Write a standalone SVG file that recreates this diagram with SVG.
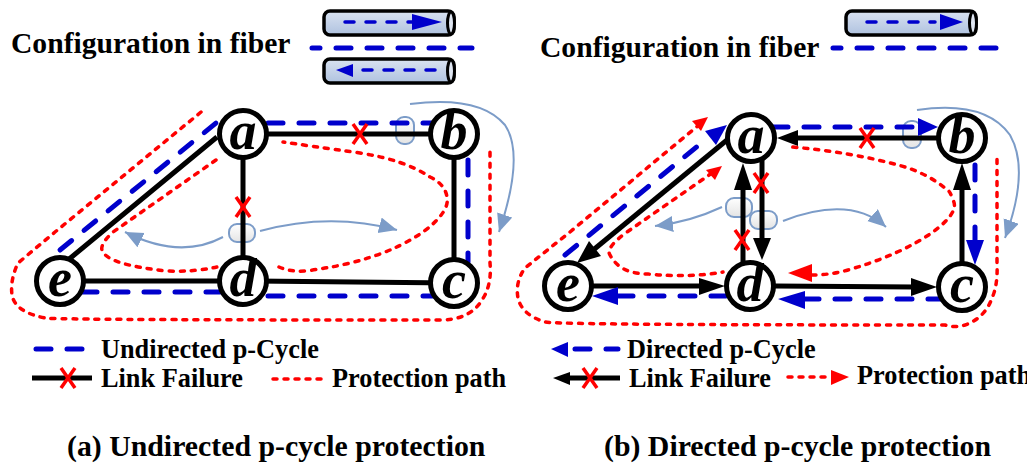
<svg xmlns="http://www.w3.org/2000/svg" width="1035" height="463" viewBox="0 0 1035 463">
<style>
text{font-family:"Liberation Serif",serif;font-weight:bold;fill:#000}
.cfg{font-size:29.6px}.leg{font-size:26.3px}.cap{font-size:29.8px}
.ltr{font-size:54px;font-style:italic;text-anchor:middle}
.nd{fill:#fff;stroke:#000;stroke-width:5}
.bk{fill:none;stroke:#000;stroke-width:5}
.bl{fill:none;stroke:#0000cc;stroke-width:5;stroke-dasharray:15 16;stroke-linecap:round}
.blt{fill:none;stroke:#0000cc;stroke-width:3.5;stroke-dasharray:9 12;stroke-linecap:round}
.rd{fill:none;stroke:#ff0000;stroke-width:3.5;stroke-dasharray:4 7;stroke-linecap:round}
.gr{fill:none;stroke:#7c9cc8;stroke-width:2}
.sl{fill:url(#sg);stroke:#7c9cc8;stroke-width:2}
.x{fill:none;stroke:#ff0000;stroke-width:3.5}
.tube{fill:url(#tb);stroke:#000;stroke-width:3.5}
.end{fill:#dfe6f2;stroke:#000;stroke-width:3}
.ab{fill:#0000cc}.ak{fill:#000}.ar{fill:#ff0000}
</style>
<defs>
<linearGradient id="tb" x1="0" y1="0" x2="0" y2="1"><stop offset="0" stop-color="#d9e2f1"/><stop offset="1" stop-color="#afc2df"/></linearGradient>
<linearGradient id="sg" x1="0" y1="0" x2="0" y2="1"><stop offset="0" stop-color="#ffffff"/><stop offset="1" stop-color="#e4e4e4"/></linearGradient>
<marker id="mg" markerUnits="userSpaceOnUse" markerWidth="20" markerHeight="18" refX="18" refY="8" orient="auto"><path d="M0 0L18 8L0 16Z" fill="#7c9cc8"/></marker>
<path id="cross" d="M-7 -10L7 10M7 -10L-7 10" class="x"/>
<clipPath id="edge"><rect x="0" y="0" width="1027" height="463"/></clipPath>
</defs>

<g id="splitters">
<rect class="sl" x="396" y="117" width="18" height="27" rx="8"/>
<rect class="sl" x="229" y="224" width="26" height="18" rx="8"/>
<rect class="sl" x="903" y="121" width="18" height="27" rx="8"/>
<rect class="sl" x="726" y="198" width="26" height="19" rx="8"/>
<rect class="sl" x="750" y="211" width="27" height="18" rx="8"/>
</g>

<g id="connectors">
<!-- panel a links -->
<path class="bk" d="M243 134H454V283M243 134V281M217 137L68 260M60 281H243L454 283"/>
<path class="bl" d="M268 123H436"/><path class="bl" d="M468 160V262"/>
<path class="bl" d="M268 296H437"/><path class="bl" d="M82 292H220"/>
<path class="bl" d="M60 250L216 123"/>
<path class="rd" d="M201 112L55 232L18 263Q10 280 12 295Q15 312 45 318Q55 320 440 320Q470 320 482 300Q492 285 490 263V147"/>
<path class="rd" d="M216 160L113 232Q98 246 103 252Q110 265 167 271Q195 272 217 267"/>
<path class="rd" d="M279 267Q290 272 305 271Q380 262 423 232Q450 212 447 197Q445 184 430 177Q405 160 360 153Q310 146 283 142"/>
<path class="gr" d="M410 104Q480 95 505 125Q525 155 499 232" marker-end="url(#mg)"/>
<path class="gr" d="M223 237Q180 260 125 232" marker-end="url(#mg)"/>
<path class="gr" d="M260 231Q330 212 397 230" marker-end="url(#mg)"/>

<!-- panel b links -->
<path class="bk" d="M962 138H795"/><path class="ak" d="M777 138L798 130V146Z"/>
<path class="bk" d="M962 265V185"/><path class="ak" d="M962 163L971 190H953Z"/>
<path class="bk" d="M743 265V185"/><path class="ak" d="M743 163L752 190H734Z"/>
<path class="bk" d="M762 160V240"/><path class="ak" d="M762 260L753 238H771Z"/>
<path class="bk" d="M593 286H705"/><path class="ak" d="M725 286L699 278V295Z"/>
<path class="bk" d="M775 286L915 287"/><path class="ak" d="M937 287L911 278V296Z"/>
<path class="bk" d="M727 140L592 251"/><path class="ak" d="M577 263L589 241L601 256Z"/>
<path class="bl" d="M773 127H918"/><path class="ab" d="M938 127L918 118V136Z"/>
<path class="bl" d="M975 165V240"/><path class="ab" d="M975 265L966 240H984Z"/>
<path class="bl" d="M943 299H805"/><path class="ab" d="M778 299L805 291V309Z"/>
<path class="bl" d="M726 296H618"/><path class="ab" d="M592 296L618 287V305Z"/>
<path class="bl" d="M565 255L705 140"/><path class="ab" d="M727 125L716 145L705 131Z"/>
<path class="rd" d="M700 124L570 232L525 268Q515 282 518 298Q522 315 545 322Q560 325 945 325Q955 328 965 325Q985 318 992 298Q998 285 997 263V153"/><path class="ar" d="M708 117L701 131L692 121Z"/>
<path class="rd" d="M712 173L627 232Q605 248 610 255Q620 274 648 274Q690 278 723 272"/><path class="ar" d="M722 166L715 180L706 170Z"/>
<path class="rd" d="M812 275Q830 275 848 270Q900 255 933 232Q960 212 953 200Q950 190 945 188Q925 172 898 165Q850 152 792 147"/><path class="ar" d="M788 273L812 264V282Z"/>
<path class="gr" d="M917 110Q985 100 1010 135Q1030 170 1005 238" marker-end="url(#mg)"/>
<path class="gr" d="M722 207Q690 222 655 226" marker-end="url(#mg)"/>
<path class="gr" d="M783 221Q850 195 886 227" marker-end="url(#mg)"/>
</g>

<g id="failures">
<use href="#cross" x="360" y="134"/><use href="#cross" x="243" y="207"/>
<use href="#cross" x="867" y="138"/><use href="#cross" x="761" y="183"/><use href="#cross" x="742" y="240"/>
</g>

<g id="node-a1"><circle class="nd" cx="243" cy="134" r="23.5"/><text class="ltr" x="243" y="149">a</text></g>
<g id="node-b1"><circle class="nd" cx="454" cy="134" r="23.5"/><text class="ltr" x="454" y="149">b</text></g>
<g id="node-c1"><circle class="nd" cx="454" cy="283" r="23.5"/><text class="ltr" x="454" y="298">c</text></g>
<g id="node-d1"><circle class="nd" cx="243" cy="281" r="23.5"/><text class="ltr" x="243" y="296">d</text></g>
<g id="node-e1"><circle class="nd" cx="60" cy="281" r="23.5"/><text class="ltr" x="60" y="296">e</text></g>
<g id="node-a2"><circle class="nd" cx="751" cy="138" r="23.5"/><text class="ltr" x="751" y="153">a</text></g>
<g id="node-b2"><circle class="nd" cx="962" cy="138" r="23.5"/><text class="ltr" x="962" y="153">b</text></g>
<g id="node-c2"><circle class="nd" cx="962" cy="287" r="23.5"/><text class="ltr" x="962" y="302">c</text></g>
<g id="node-d2"><circle class="nd" cx="750" cy="286" r="23.5"/><text class="ltr" x="750" y="301">d</text></g>
<g id="node-e2"><circle class="nd" cx="568" cy="286" r="23.5"/><text class="ltr" x="568" y="301">e</text></g>

<g id="fiber-a">
<text class="cfg" x="11" y="53">Configuration in fiber</text>
<rect class="tube" x="324" y="11" width="130" height="24" rx="6"/><ellipse class="end" cx="451" cy="23" rx="3.5" ry="11"/>
<path class="blt" d="M345 22H412"/><path class="ab" d="M442 22L412 14V30Z"/>
<path class="bl" d="M312 48H472" stroke-dashoffset="7"/>
<rect class="tube" x="324" y="59" width="130" height="24" rx="6"/><ellipse class="end" cx="451" cy="71" rx="3.5" ry="11"/>
<path class="blt" d="M435 70H356"/><path class="ab" d="M336 70L353 64V77Z"/>
</g>
<g id="fiber-b">
<text class="cfg" x="540" y="57">Configuration in fiber</text>
<rect class="tube" x="846" y="11" width="130" height="24" rx="6"/><ellipse class="end" cx="973" cy="23" rx="3.5" ry="11"/>
<path class="blt" d="M867 22H935"/><path class="ab" d="M963 22L940 14V30Z"/>
<path class="bl" d="M833 48H997" stroke-dashoffset="7"/>
</g>

<g id="legend-a">
<path class="bl" d="M36 349H91" stroke-dasharray="9 13"/><text class="leg" x="101" y="358">Undirected p-Cycle</text>
<path class="bk" d="M32 378H92"/><use href="#cross" x="68" y="378"/><text class="leg" x="101" y="387">Link Failure</text>
<path class="rd" d="M273 379H322" stroke-dasharray="5 6"/><text class="leg" x="332" y="387">Protection path</text>
<text class="cap" x="67" y="456">(a) Undirected p-cycle protection</text>
</g>
<g id="legend-b">
<path class="bl" d="M575 349H618" stroke-dasharray="10 12" stroke-width="4"/><path class="ab" d="M551 349L568 342V357Z"/><text class="leg" x="627" y="358">Directed p-Cycle</text>
<path class="bk" d="M565 378H620"/><path class="ak" d="M553 378L570 372V385Z"/><use href="#cross" x="590" y="378"/><text class="leg" x="629" y="387">Link Failure</text>
<path class="rd" d="M788 377H832" stroke-width="2.5" stroke-dasharray="3 3"/><path class="ar" d="M849 377L831 370V385Z"/><text class="leg" x="857" y="384" clip-path="url(#edge)">Protection path</text>
<text class="cap" x="604" y="456">(b) Directed p-cycle protection</text>
</g>
</svg>
